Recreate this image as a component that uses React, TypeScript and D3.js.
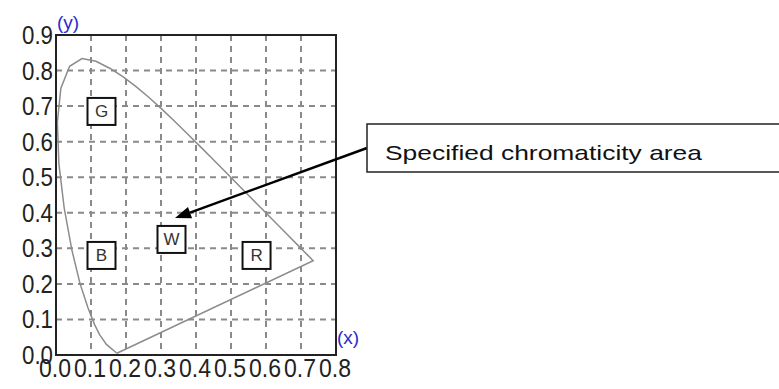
import * as d3 from "d3";

// spectral locus (x, y chromaticity)
const locusX = [0.1741, 0.144, 0.1241, 0.1096, 0.0913, 0.0687, 0.0454, 0.0235, 0.0082, 0.0039, 0.0139, 0.0389, 0.0743, 0.1142, 0.1547, 0.1929, 0.2296, 0.2658, 0.3016, 0.3373, 0.3731, 0.4087, 0.4441, 0.4788, 0.5125, 0.5448, 0.5752, 0.6029, 0.627, 0.6658, 0.6915, 0.7079, 0.719, 0.726, 0.7347];
const locusY = [0.005, 0.0297, 0.0578, 0.0868, 0.1327, 0.2007, 0.295, 0.4127, 0.5384, 0.6548, 0.7502, 0.812, 0.8338, 0.8262, 0.8059, 0.7816, 0.7543, 0.7243, 0.6923, 0.6589, 0.6245, 0.5896, 0.5547, 0.5202, 0.4866, 0.4544, 0.4242, 0.3965, 0.3725, 0.334, 0.3083, 0.292, 0.2809, 0.274, 0.2653];

// labelled points
const pointNames = ["G", "B", "W", "R"];
const pointX = [0.13, 0.13, 0.33, 0.573];
const pointY = [0.685, 0.28, 0.325, 0.28];

const xTicks = [0, 0.1, 0.2, 0.3, 0.4, 0.5, 0.6, 0.7, 0.8];
const yTicks = [0, 0.1, 0.2, 0.3, 0.4, 0.5, 0.6, 0.7, 0.8, 0.9];

const calloutText = "Specified chromaticity area";
const arrowTip = [0.34, 0.385];

const W = 779;
const H = 389;
const FRAME = { left: 56, right: 336, top: 35, bottom: 355 };

export default function App() {
  const x = d3.scaleLinear().domain([0, 0.8]).range([FRAME.left, FRAME.right]);
  const y = d3.scaleLinear().domain([0, 0.9]).range([FRAME.bottom, FRAME.top]);

  const locus = locusX.map((v, i) => [v, locusY[i]] as [number, number]);
  // close with the purple line
  const locusPath = d3
    .line<[number, number]>()
    .x((d) => x(d[0]))
    .y((d) => y(d[1]))([...locus, locus[0]]);

  const grid = "#8a8a8a";
  const font = "'Liberation Sans', Arial, sans-serif";

  // arrow
  const start = [367, 148];
  const tip = [x(arrowTip[0]), y(arrowTip[1])];
  const ang = Math.atan2(tip[1] - start[1], tip[0] - start[0]);
  const len = 16;
  const hw = 6;
  const base = [tip[0] - len * Math.cos(ang), tip[1] - len * Math.sin(ang)];
  const head = [
    tip,
    [base[0] + hw * Math.sin(ang), base[1] - hw * Math.cos(ang)],
    [base[0] - hw * Math.sin(ang), base[1] + hw * Math.cos(ang)],
  ]
    .map((p) => p.join(","))
    .join(" ");

  return (
    <svg
      width={W}
      height={H}
      style={{ position: "absolute", left: 0, top: 0, background: "#fff" }}
    >
      {/* grid */}
      {xTicks.slice(1, -1).map((t) => (
        <line
          key={"gx" + t}
          x1={x(t)}
          x2={x(t)}
          y1={FRAME.top}
          y2={FRAME.bottom}
          stroke={grid}
          strokeWidth={2}
          strokeDasharray="6,5"
        />
      ))}
      {yTicks.slice(1, -1).map((t) => (
        <line
          key={"gy" + t}
          x1={FRAME.left}
          x2={FRAME.right}
          y1={y(t)}
          y2={y(t)}
          stroke={grid}
          strokeWidth={2}
          strokeDasharray="6,5"
        />
      ))}

      {/* locus */}
      <path d={locusPath || ""} fill="none" stroke="#8c8c8c" strokeWidth={1.5} />

      {/* frame */}
      <rect
        x={FRAME.left}
        y={FRAME.top}
        width={FRAME.right - FRAME.left}
        height={FRAME.bottom - FRAME.top}
        fill="none"
        stroke="#222"
        strokeWidth={2}
      />

      {/* y tick labels */}
      {yTicks.map((t) => (
        <text
          key={"yl" + t}
          x={53}
          y={y(t) + 9}
          textAnchor="end"
          fontFamily={font}
          fontSize={25}
          fill="#222"
          textLength={31}
          lengthAdjust="spacingAndGlyphs"
        >
          {t.toFixed(1)}
        </text>
      ))}
      {/* x tick labels */}
      {xTicks.map((t) => (
        <text
          key={"xl" + t}
          x={x(t) - 1}
          y={377}
          textAnchor="middle"
          fontFamily={font}
          fontSize={25}
          fill="#222"
          textLength={32}
          lengthAdjust="spacingAndGlyphs"
        >
          {t.toFixed(1)}
        </text>
      ))}

      {/* axis names */}
      <text x={57} y={29} fontFamily={font} fontSize={19} fill="#2a2ad0">
        (y)
      </text>
      <text x={337} y={344} fontFamily={font} fontSize={19} fill="#2a2ad0">
        (x)
      </text>

      {/* point boxes */}
      {pointNames.map((n, i) => (
        <g key={n} transform={`translate(${x(pointX[i])},${y(pointY[i])})`}>
          <rect x={-14} y={-13.5} width={28} height={27} fill="#fff" stroke="#111" strokeWidth={2} />
          <text
            x={0}
            y={6}
            textAnchor="middle"
            fontFamily={font}
            fontSize={17}
            fill="#333"
          >
            {n}
          </text>
        </g>
      ))}

      {/* callout */}
      <line x1={start[0]} y1={start[1]} x2={base[0]} y2={base[1]} stroke="#000" strokeWidth={2.5} />
      <polygon points={head} fill="#000" />
      <rect x={367} y={124} width={420} height={48} fill="#fff" stroke="#222" strokeWidth={1.5} />
      <text
        x={385}
        y={160}
        fontFamily={font}
        fontSize={21}
        fill="#111"
        textLength={317}
        lengthAdjust="spacingAndGlyphs"
      >
        {calloutText}
      </text>
    </svg>
  );
}
